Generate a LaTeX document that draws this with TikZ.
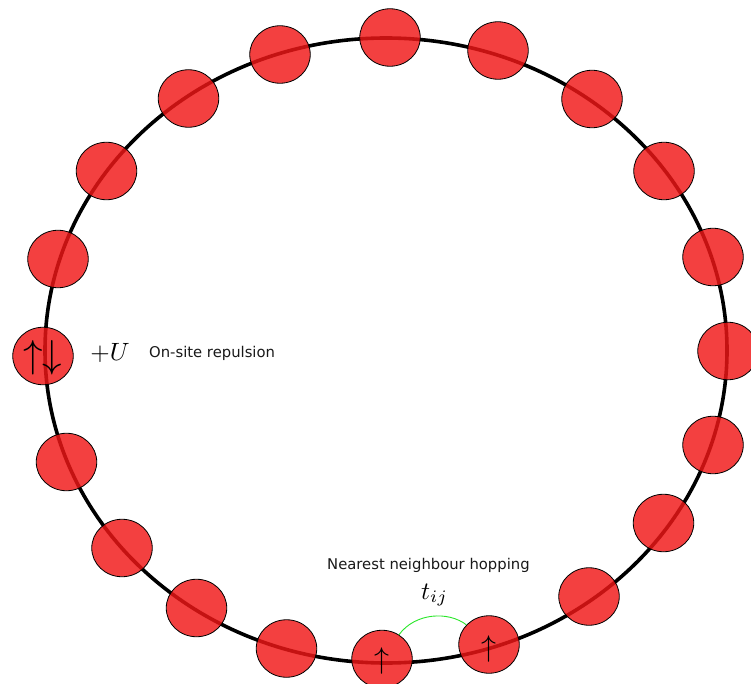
\documentclass[tikz,border=0pt]{standalone}
\usepackage{graphicx}
\usepackage{fontspec}
\newfontfamily\dejavu{DejaVu Sans}
\usetikzlibrary{shapes.geometric}
\definecolor{sitered}{RGB}{240,22,22}
\definecolor{hopgreen}{RGB}{40,230,40}
\newcommand{\scmath}[2]{\scalebox{#1}{$#2$}}
\begin{document}
\begin{tikzpicture}[x=1pt,y=-1pt,
  site/.style={ellipse, draw=black, line width=0.8pt, fill=sitered, fill opacity=0.82,
    minimum width=60.5pt, minimum height=57.5pt, inner sep=0pt},
  lbl/.style={font=\dejavu\fontsize{14.8}{17}\selectfont, inner sep=0pt, text=black!90},
  spin/.style={inner sep=0pt, anchor=base, font=\fontsize{10}{12}\selectfont}]
\useasboundingbox (0,0) rectangle (751,684);
\draw[line width=3.6pt] (386,350.5) ellipse [x radius=341, y radius=312.5];
\foreach \n/\x/\y in {1/390/37.5, 2/498/50.5, 3/592/99, 4/664/171, 5/713/257,
  6/728/351, 7/713/445, 8/663.5/523, 9/589/596.5, 10/489/644.5,
  11/382/659, 12/286.5/648.5, 13/196.5/608, 14/122/548, 15/66.5/462,
  16/43/356, 17/58/259, 18/106.5/171, 19/188.5/98.5, 20/280/54.5}
  \node[site] (s\n) at (\x,\y) {};
\node[spin] (ud) at (42.5,367.6) {\scmath{3.9}{\uparrow\downarrow}};
\node[spin] (upa) at (489,656) {\scmath{3.0}{\uparrow}};
\node[spin] (upb) at (381.5,668) {\scmath{3.0}{\uparrow}};
\node[spin] (U) at (110,360) {\scmath{2.5}{+U}};
\node[lbl, anchor=base west] (rep) at (149,357) {On-site repulsion};
\node[lbl, anchor=base west] (hopt) at (327,569) {Nearest neighbour hopping};
\node[spin] (tij) at (434.5,599) {\scmath{2.5}{t_{ij}}};
\draw[hopgreen, line width=0.9pt] (s11.55) .. controls +(16,-22) and +(-18,-14) .. (s10.139);
\end{tikzpicture}
\end{document}
